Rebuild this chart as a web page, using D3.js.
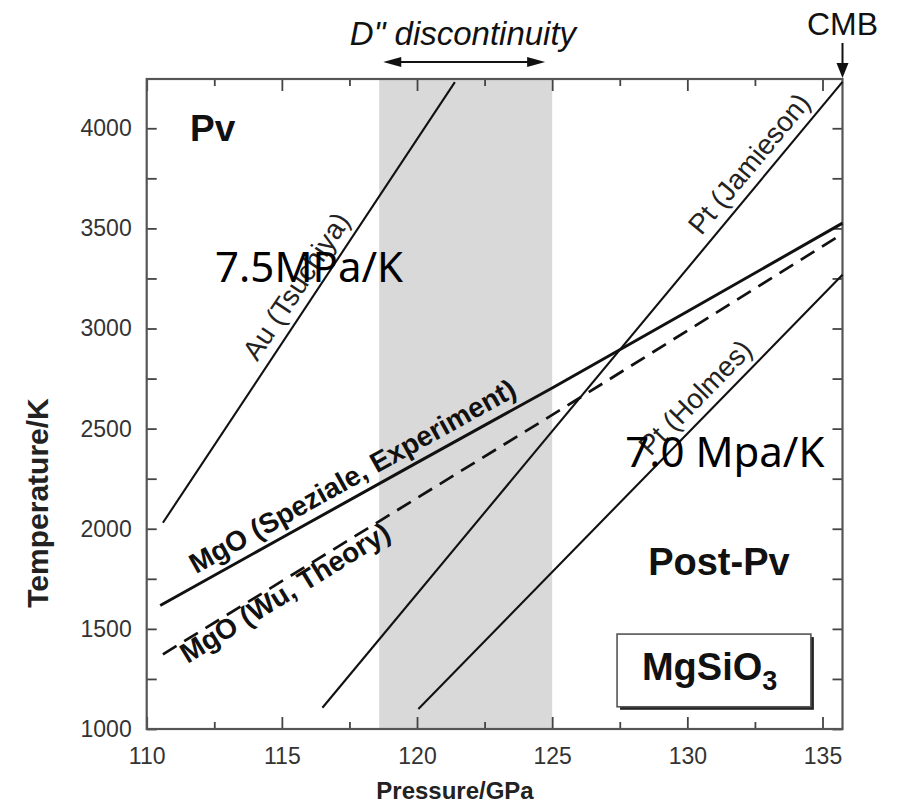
<!DOCTYPE html>
<html>
<head>
<meta charset="utf-8">
<title>MgSiO3 post-perovskite phase boundary</title>
<script src="https://d3js.org/d3.v7.min.js"></script>
<style>
  body { margin: 0; background: #fff; }
  text { font-family: "Liberation Sans", Arial, Helvetica, sans-serif; }
</style>
</head>
<body>
<div id="chart"></div>
<script>
// phase boundaries, [pressure GPa, temperature K]
var auTsuchiya  = [[110.6, 2030], [121.4, 4230]];
var ptJamieson  = [[116.5, 1106], [135.74, 4232]];
var ptHolmes    = [[120.05, 1100], [135.74, 3268]];
var mgoSpeziale = [[110.5, 1617], [115, 1955], [120, 2330], [125, 2703], [130, 3085], [135.74, 3526]];
var mgoWu       = [[110.6, 1373], [125.5, 2610], [135.74, 3473]];

// D'' discontinuity pressure range
var dBand = [118.6, 125];

var xTicks = [110, 115, 120, 125, 130, 135];
var xMinor = [112.5, 117.5, 122.5, 127.5, 132.5];
var yTicks = [1000, 1500, 2000, 2500, 3000, 3500, 4000];
var yMinor = [1250, 1750, 2250, 2750, 3250, 3750];

var margin = {top: 79, right: 59.5, bottom: 82, left: 146.7},
    width = 902 - margin.left - margin.right,
    height = 811 - margin.top - margin.bottom;

var svg = d3.select("#chart")
  .append("svg")
    .attr("width", 902)
    .attr("height", 811)
  .append("g")
    .attr("transform", "translate(" + margin.left + "," + margin.top + ")");

var x = d3.scaleLinear().domain([110, 135.74]).range([0, width]);
var y = d3.scaleLinear().domain([1000, 4246]).range([height, 0]);

// shaded D'' band
svg.append("rect")
  .attr("x", x(dBand[0]))
  .attr("y", 0)
  .attr("width", x(dBand[1]) - x(dBand[0]))
  .attr("height", height)
  .attr("fill", "#d9d9d9");

// axes, ticks pointing in
function styleAxis(g) {
  g.select(".domain").remove();
  g.selectAll(".tick line").attr("stroke", "#444").attr("stroke-width", 1.8);
  g.selectAll(".tick text").attr("fill", "#333").style("font-size", "23px");
}
svg.append("g").attr("transform", "translate(0," + height + ")")
  .call(d3.axisBottom(x).tickValues(xTicks).tickSizeInner(-12).tickPadding(19).tickFormat(d3.format("d")))
  .call(styleAxis);
svg.append("g").attr("transform", "translate(0," + height + ")")
  .call(d3.axisBottom(x).tickValues(xMinor).tickSizeInner(-7).tickFormat(""))
  .call(styleAxis);
svg.append("g")
  .call(d3.axisTop(x).tickValues(xTicks).tickSizeInner(-12).tickFormat(""))
  .call(styleAxis);
svg.append("g")
  .call(d3.axisTop(x).tickValues(xMinor).tickSizeInner(-7).tickFormat(""))
  .call(styleAxis);
svg.append("g")
  .call(d3.axisLeft(y).tickValues(yTicks).tickSizeInner(-10).tickPadding(15).tickFormat(d3.format("d")))
  .call(styleAxis);
svg.append("g")
  .call(d3.axisLeft(y).tickValues(yMinor).tickSizeInner(-10).tickFormat(""))
  .call(styleAxis);
svg.append("g").attr("transform", "translate(" + width + ",0)")
  .call(d3.axisRight(y).tickValues(yTicks.concat(yMinor)).tickSizeInner(-10).tickFormat(""))
  .call(styleAxis);

// frame
svg.append("rect")
  .attr("width", width)
  .attr("height", height)
  .attr("fill", "none")
  .attr("stroke", "#555")
  .attr("stroke-width", 2.2);

// lines
var line = d3.line().x(function(d) { return x(d[0]); }).y(function(d) { return y(d[1]); });

var series = [
  {name: "au", data: auTsuchiya, width: 2.1, dash: null},
  {name: "jam", data: ptJamieson, width: 2.1, dash: null},
  {name: "hol", data: ptHolmes, width: 2.1, dash: null},
  {name: "spe", data: mgoSpeziale, width: 3, dash: null},
  {name: "wu", data: mgoWu, width: 2.7, dash: "16,9"}
];
svg.selectAll(".bound")
  .data(series)
  .enter()
  .append("path")
    .attr("class", "bound")
    .attr("d", function(d) { return line(d.data); })
    .attr("fill", "none")
    .attr("stroke", "#111")
    .attr("stroke-width", function(d) { return d.width; })
    .attr("stroke-dasharray", function(d) { return d.dash; });

// labels along the lines
function pointOn(data, p) {
  for (var i = 0; i < data.length - 1; i++) {
    var a = data[i], b = data[i + 1];
    if (p <= b[0] || i == data.length - 2) {
      var t = (p - a[0]) / (b[0] - a[0]);
      var px = x(p), py = y(a[1] + t * (b[1] - a[1]));
      var ang = Math.atan2(y(b[1]) - y(a[1]), x(b[0]) - x(a[0])) * 180 / Math.PI;
      return [px, py, ang];
    }
  }
}

var lineLabels = [
  {text: "Au (Tsuchiya)", data: auTsuchiya, at: 114.4, dy: -10, bold: false},
  {text: "Pt (Jamieson)", data: ptJamieson, at: 130.8, dy: -10, bold: false},
  {text: "Pt (Holmes)", data: ptHolmes, at: 128.9, dy: -10, bold: false},
  {text: "MgO (Speziale, Experiment)", data: mgoSpeziale, at: 112.0, dy: -10, bold: true},
  {text: "MgO (Wu, Theory)", data: mgoWu, at: 111.1, dy: 21, bold: true}
];
lineLabels.forEach(function(l) {
  var p = pointOn(l.data, l.at);
  svg.append("text")
    .attr("transform", "translate(" + p[0] + "," + p[1] + ") rotate(" + p[2] + ")")
    .attr("dy", l.dy)
    .attr("fill", l.bold ? "#111" : "#222")
    .style("font-size", l.bold ? "28px" : "28px")
    .style("font-weight", l.bold ? "bold" : "normal")
    .text(l.text);
});

// region labels
svg.append("text")
  .attr("x", x(111.6)).attr("y", y(3937))
  .style("font-size", "37px").style("font-weight", "bold").attr("fill", "#111")
  .text("Pv");
svg.append("text")
  .attr("x", x(128.55)).attr("y", y(1769))
  .style("font-size", "38px").style("font-weight", "bold").attr("fill", "#111")
  .text("Post-Pv");

// MgSiO3 box with shadow
var bx0 = x(127.4), bx1 = x(134.57), by0 = y(1474), by1 = y(1111);
svg.append("rect")
  .attr("x", bx0 + 3).attr("y", by0 + 3)
  .attr("width", bx1 - bx0).attr("height", by1 - by0)
  .attr("fill", "#222");
svg.append("rect")
  .attr("x", bx0).attr("y", by0)
  .attr("width", bx1 - bx0).attr("height", by1 - by0)
  .attr("fill", "#fff").attr("stroke", "#555").attr("stroke-width", 1.6);
var chem = svg.append("text")
  .attr("x", x(128.32)).attr("y", y(1245))
  .style("font-size", "38px").style("font-weight", "bold").attr("fill", "#111");
chem.append("tspan").text("MgSiO");
chem.append("tspan").attr("dy", 10).style("font-size", "27px").text("3");

// slope notes
svg.append("text")
  .attr("x", x(112.53)).attr("y", y(3233))
  .style("font-family", "'Noto Sans', 'Open Sans', sans-serif")
  .style("font-size", "42px").attr("fill", "#000")
  .text("7.5MPa/K");
svg.append("text")
  .attr("x", x(127.7)).attr("y", y(2310))
  .style("font-family", "'Noto Sans', 'Open Sans', sans-serif")
  .style("font-size", "42px").attr("fill", "#000")
  .text("7.0 Mpa/K");

// axis titles
svg.append("text")
  .attr("x", 455 - margin.left).attr("y", height + 70)
  .attr("text-anchor", "middle")
  .style("font-size", "24px").style("font-weight", "bold").attr("fill", "#222")
  .text("Pressure/GPa");
svg.append("text")
  .attr("transform", "translate(" + (48 - margin.left) + "," + (503 - margin.top) + ") rotate(-90)")
  .attr("text-anchor", "middle")
  .style("font-size", "30px").style("font-weight", "bold").attr("fill", "#222")
  .text("Temperature/K");

// CMB marker
var cmbX = x(135.74);
svg.append("text")
  .attr("x", cmbX).attr("y", -44)
  .attr("text-anchor", "middle")
  .style("font-size", "32px").attr("fill", "#111")
  .text("CMB");
svg.append("line")
  .attr("x1", cmbX).attr("x2", cmbX).attr("y1", -36).attr("y2", -12)
  .attr("stroke", "#111").attr("stroke-width", 2);
svg.append("path")
  .attr("d", "M" + (cmbX - 6) + "," + (-16) + "L" + (cmbX + 6) + "," + (-16) + "L" + cmbX + "," + (-1) + "Z")
  .attr("fill", "#111");

// D'' discontinuity arrow
var ax0 = x(118.75), ax1 = x(124.74), ay = -17;
svg.append("line")
  .attr("x1", ax0 + 10).attr("x2", ax1 - 10).attr("y1", ay).attr("y2", ay)
  .attr("stroke", "#111").attr("stroke-width", 2);
svg.append("path")
  .attr("d", "M" + ax0 + "," + ay + "L" + (ax0 + 18) + "," + (ay - 5) + "L" + (ax0 + 18) + "," + (ay + 5) + "Z")
  .attr("fill", "#111");
svg.append("path")
  .attr("d", "M" + ax1 + "," + ay + "L" + (ax1 - 18) + "," + (ay - 5) + "L" + (ax1 - 18) + "," + (ay + 5) + "Z")
  .attr("fill", "#111");
svg.append("text")
  .attr("x", x(121.7)).attr("y", -34)
  .attr("text-anchor", "middle")
  .style("font-size", "33px").style("font-style", "italic").attr("fill", "#111")
  .text("D\" discontinuity");
</script>
</body>
</html>
